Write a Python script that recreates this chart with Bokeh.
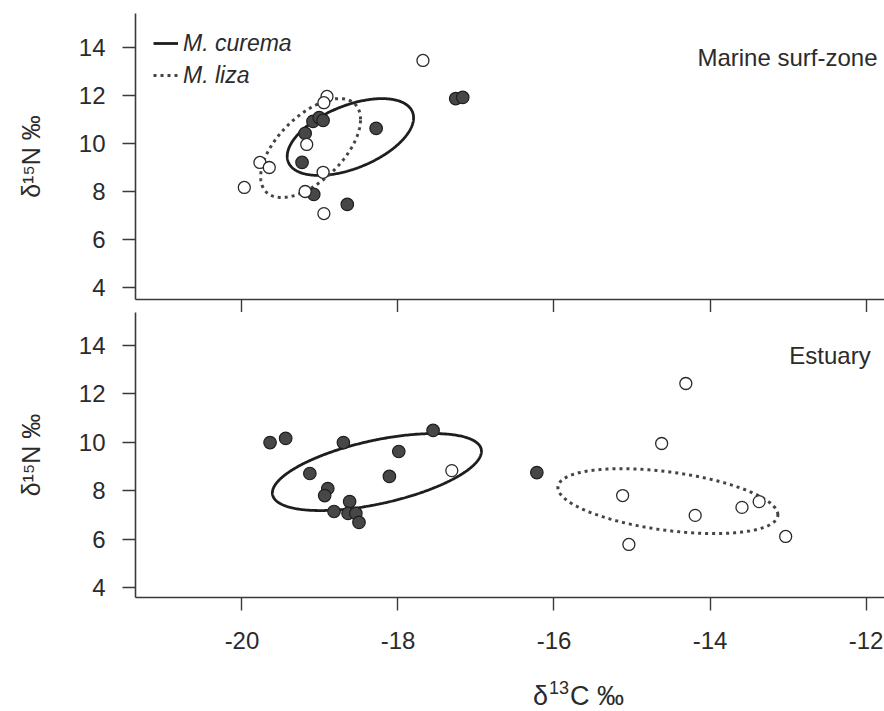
import numpy as np
from bokeh.plotting import figure
from bokeh.models import Range1d, FixedTicker, Label, Legend, LegendItem, Div
from bokeh.layouts import column
from bokeh.embed import file_html
from bokeh.resources import INLINE

# ---------------- data ----------------
# Marine surf-zone
surf_curema_x = [-18.28, -19.23, -19.19, -19.09, -19.01, -18.96, -19.08, -18.65, -17.26, -17.17]
surf_curema_y = [10.63, 9.21, 10.42, 10.92, 11.08, 10.96, 7.88, 7.46, 11.87, 11.92]
surf_liza_x = [-17.68, -19.97, -19.77, -19.65, -19.17, -18.91, -18.95, -18.96, -19.19, -18.95]
surf_liza_y = [13.46, 8.17, 9.21, 9.00, 9.96, 11.96, 11.70, 8.80, 8.00, 7.08]

# Estuary
est_curema_x = [-19.64, -19.44, -18.70, -17.55, -17.99, -19.13, -18.11, -18.90, -18.94,
                -18.62, -18.82, -18.64, -18.54, -18.50, -16.22]
est_curema_y = [9.99, 10.16, 9.99, 10.49, 9.62, 8.71, 8.59, 8.09, 7.80,
                7.55, 7.14, 7.06, 7.06, 6.69, 8.75]
est_liza_x = [-17.31, -14.31, -14.62, -15.12, -14.19, -13.59, -13.37, -15.04, -13.03]
est_liza_y = [8.83, 12.43, 9.95, 7.80, 6.98, 7.31, 7.55, 5.78, 6.11]

# standard ellipses: centre x, centre y, sd x, sd y, correlation
ell_surf_curema = [-18.61, 10.27, 0.81, 1.60, 0.50]
ell_surf_liza = [-19.12, 9.81, 0.64, 2.06, 0.58]
ell_est_curema = [-18.27, 8.77, 1.34, 1.59, 0.54]
ell_est_liza = [-14.54, 7.57, 1.41, 1.34, -0.42]

x_ticks = [-20, -18, -16, -14, -12]
x_tick_labels = ["-20", "-18", "-16", "-14", "-12"]
y_ticks = [4, 6, 8, 10, 12, 14]
species = ["M. curema", "M. liza"]
panels = ["Marine surf-zone", "Estuary"]
y_title = "δ¹⁵N ‰"

FONT = "Liberation Sans"
INK = "#2b2b2b"
AX = "#3a3a3a"
W = 884
X_RANGE = (-21.365, -11.763)


def ellipse_xy(par):
    cx, cy, sx, sy, r = par
    t = np.linspace(0, 2 * np.pi, 361)
    x = cx + sx * np.cos(t)
    y = cy + sy * (r * np.cos(t) + np.sqrt(1 - r * r) * np.sin(t))
    return x, y


def make_fig(height, yr, mbt, mbb, show_xlabels):
    p = figure(width=W, height=height,
               x_range=Range1d(*X_RANGE), y_range=Range1d(*yr),
               output_backend="svg", toolbar_location=None,
               min_border_left=135, min_border_right=0,
               min_border_top=mbt, min_border_bottom=mbb)
    p.outline_line_color = None
    p.xgrid.visible = False
    p.ygrid.visible = False
    p.background_fill_color = "white"
    p.border_fill_color = "white"
    for ax in (p.xaxis[0], p.yaxis[0]):
        ax.axis_line_color = AX
        ax.axis_line_width = 1.6
        ax.major_tick_line_color = AX
        ax.major_tick_line_width = 1.4
        ax.major_tick_in = 0
        ax.major_tick_out = 13
        ax.minor_tick_line_color = None
        ax.major_label_text_font = FONT
        ax.major_label_text_color = INK
    p.xaxis.ticker = FixedTicker(ticks=x_ticks)
    p.xaxis.major_label_overrides = {t: s for t, s in zip(x_ticks, x_tick_labels)}
    p.yaxis.ticker = FixedTicker(ticks=y_ticks)
    p.yaxis.major_label_text_font_size = "24px"
    p.yaxis.major_label_standoff = 17
    p.yaxis.axis_label = y_title
    p.yaxis.axis_label_text_font = FONT
    p.yaxis.axis_label_text_font_size = "25px"
    p.yaxis.axis_label_text_font_style = "normal"
    p.yaxis.axis_label_text_color = INK
    p.yaxis.axis_label_standoff = 31
    if show_xlabels:
        p.xaxis.major_label_text_font_size = "24px"
        p.xaxis.major_label_standoff = 21
    else:
        p.xaxis.major_label_text_font_size = "0px"
        p.xaxis.major_label_standoff = 0
        p.xaxis.major_label_text_alpha = 0
    return p


def draw_panel(p, cur_x, cur_y, liz_x, liz_y, ell_c, ell_l):
    ex, ey = ellipse_xy(ell_c)
    r_c = p.line(ex, ey, line_color="#1e1e1e", line_width=2.8)
    ex, ey = ellipse_xy(ell_l)
    r_l = p.line(ex, ey, line_color="#444444", line_width=3, line_dash="3 4")
    p.scatter(cur_x, cur_y, size=12.5, fill_color="#474747", line_color="#1e1e1e",
              line_width=1.2)
    p.scatter(liz_x, liz_y, size=12, fill_color="white", line_color="#2a2a2a",
              line_width=1.3)
    return r_c, r_l


# ---------------- top panel ----------------
p1 = make_fig(312, (3.5, 15.417), 13, 13, False)
rc, rl = draw_panel(p1, surf_curema_x, surf_curema_y, surf_liza_x, surf_liza_y,
                    ell_surf_curema, ell_surf_liza)
p1.add_layout(Label(x=-11.853, y=13.58, text=panels[0], text_align="right",
                    text_baseline="middle", text_font=FONT, text_font_size="24px",
                    text_color=INK))
leg = Legend(items=[LegendItem(label=species[0], renderers=[rc]),
                    LegendItem(label=species[1], renderers=[rl])],
             location=(18, 208), orientation="vertical",
             padding=0, margin=0, spacing=0,
             glyph_width=25, glyph_height=32, label_height=32,
             label_standoff=5,
             label_text_font=FONT, label_text_font_size="23px",
             label_text_font_style="italic", label_text_color=INK,
             border_line_color=None, background_fill_alpha=0)
p1.add_layout(leg)

# ---------------- bottom panel ----------------
p2 = make_fig(349, (3.587, 15.364), 0, 64, True)
draw_panel(p2, est_curema_x, est_curema_y, est_liza_x, est_liza_y,
           ell_est_curema, ell_est_liza)
p2.add_layout(Label(x=-11.94, y=13.59, text=panels[1], text_align="right",
                    text_baseline="middle", text_font=FONT, text_font_size="24px",
                    text_color=INK))

# ---------------- x-axis title  δ13C ‰ (off-centre as in the reference) ----------------
x_title_html = (
    "<div style=\"margin:0;padding:22px 0 0 533px;"
    "font-family:'Liberation Sans';font-size:27px;line-height:27px;color:#2b2b2b;"
    "white-space:nowrap;\">δ<span style=\"font-size:18px;position:relative;top:-11px;"
    "padding:0 1px 0 1px;\">13</span>C ‰</div>"
)
title_div = Div(text=x_title_html, width=W, height=50, margin=0)

layout = column(p1, p2, title_div, spacing=0)
open("out.html", "w").write(file_html(layout, INLINE))
